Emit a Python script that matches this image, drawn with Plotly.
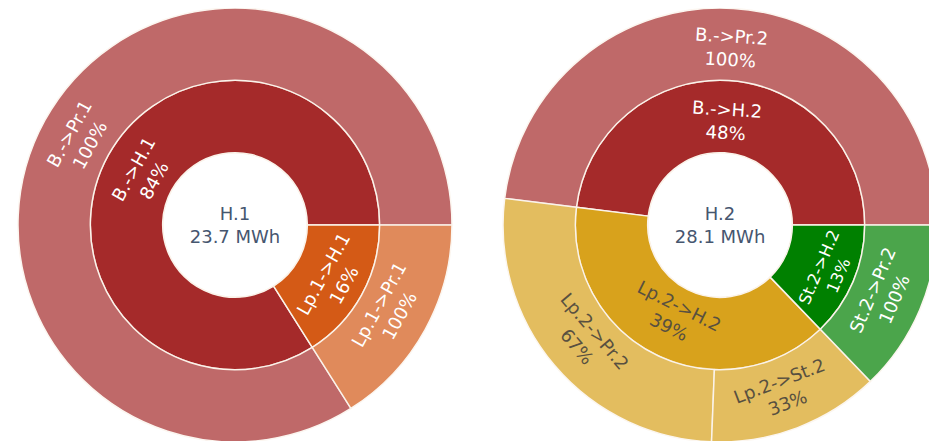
import plotly.graph_objects as go

# Left sunburst (H.1)
ids1 = ["H.1", "B.->H.1", "Lp.1->H.1", "B.->Pr.1", "Lp.1->Pr.1"]
labels1 = ["H.1", "B.->H.1", "Lp.1->H.1", "B.->Pr.1", "Lp.1->Pr.1"]
parents1 = ["", "H.1", "H.1", "B.->H.1", "Lp.1->H.1"]
values1 = [23.7, 19.9, 3.8, 19.9, 3.8]
colors1 = ["#ffffff", "#a52a2a", "#d45a16", "#a52a2a", "#d45a16"]
textcolors1 = ["#46566f", "#ffffff", "#ffffff", "#ffffff", "#ffffff"]

# Right sunburst (H.2)
ids2 = ["H.2", "B.->H.2", "Lp.2->H.2", "St.2->H.2", "B.->Pr.2", "Lp.2->Pr.2", "Lp.2->St.2", "St.2->Pr.2"]
labels2 = ["H.2", "B.->H.2", "Lp.2->H.2", "St.2->H.2", "B.->Pr.2", "Lp.2->Pr.2", "Lp.2->St.2", "St.2->Pr.2"]
parents2 = ["", "H.2", "H.2", "H.2", "B.->H.2", "Lp.2->H.2", "Lp.2->H.2", "St.2->H.2"]
values2 = [28.1, 13.5, 11.0, 3.6, 13.5, 7.4, 3.6, 3.6]
colors2 = ["#ffffff", "#a52a2a", "#d8a21c", "#008000", "#a52a2a", "#d8a21c", "#d8a21c", "#008000"]
textcolors2 = ["#46566f", "#ffffff", "#585040", "#ffffff", "#ffffff", "#585040", "#585040", "#ffffff"]

root_tpl = "%{label}<br>%{value:.1f} MWh"
child_tpl = "%{label}<br>%{percentParent:.0%}"


def templates(n):
    return [root_tpl] + [child_tpl] * (n - 1)


fig = go.Figure()
fig.add_trace(go.Sunburst(
    ids=ids1, labels=labels1, parents=parents1, values=values1,
    branchvalues="total",
    marker=dict(colors=colors1, line=dict(color="#fbf3ea", width=1.5)),
    leaf=dict(opacity=0.7),
    texttemplate=templates(len(ids1)),
    textfont=dict(color=textcolors1, size=18, family="DejaVu Sans"),
    insidetextfont=dict(color=textcolors1, size=18, family="DejaVu Sans"),
    domain=dict(x=[0.0, 0.4845], y=[0, 1]),
    hoverinfo="label+value+percent parent",
))
fig.add_trace(go.Sunburst(
    ids=ids2, labels=labels2, parents=parents2, values=values2,
    branchvalues="total",
    marker=dict(colors=colors2, line=dict(color="#fbf3ea", width=1.5)),
    leaf=dict(opacity=0.7),
    texttemplate=templates(len(ids2)),
    textfont=dict(color=textcolors2, size=18, family="DejaVu Sans"),
    insidetextfont=dict(color=textcolors2, size=18, family="DejaVu Sans"),
    domain=dict(x=[0.52, 0.9998], y=[0, 1]),
    hoverinfo="label+value+percent parent",
))
fig.update_layout(
    width=937, height=441,
    margin=dict(l=0, r=0, t=0, b=7),
    paper_bgcolor="white",
    font=dict(family="DejaVu Sans", size=18),
    showlegend=False,
)
fig.write_html("out.html")
